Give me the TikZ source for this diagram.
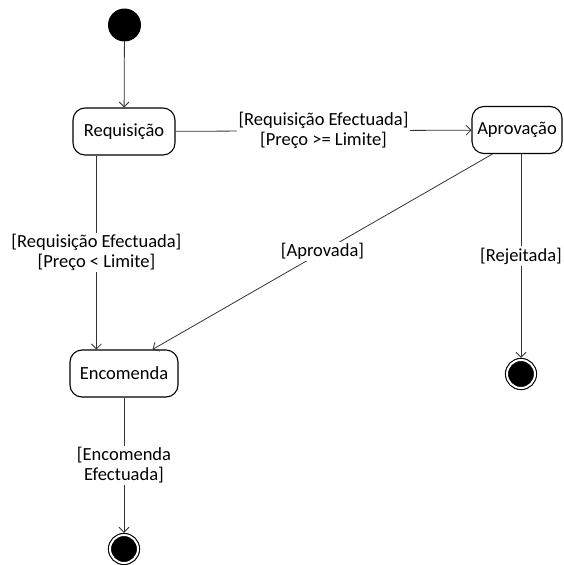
\documentclass[tikz,border=0pt]{standalone}
\usepackage{fontspec}
\setmainfont{Carlito}
\usetikzlibrary{arrows.meta}

\tikzset{
    state/.style = {draw, line width=1.1pt, rounded corners=12pt, minimum height=47pt, inner sep=2pt},
    initial/.style = {circle, fill=black, minimum size=33pt, inner sep=0pt},
    final/.style = {circle, draw=black, line width=1.1pt, double=white, double distance=2pt, fill=black, minimum size=28pt, inner sep=0pt, outer sep=2.2pt},
    arr/.style = {draw=black!80, line width=0.8pt, -{Straight Barb[length=5pt, width=10pt]}},
    lbl/.style = {fill=white, align=center, inner sep=1.5pt}
}

\begin{document}
\begin{tikzpicture}[x = 1pt, y = -1pt, font = \fontsize{18.5pt}{20pt}\selectfont]
    \useasboundingbox (0,0) rectangle (564,565);
    \node[initial] (start) at (124.5,25) {};
    \node[state, minimum width = 102pt] (req) at (124,131.5) {Requisição};
    \node[state, minimum width = 90pt] (apr) at (517,130) {Aprovação};
    \node[state, minimum width = 108pt] (enc) at (124,373.5) {Encomenda};
    \node[final] (endA) at (521,374) {};
    \node[final] (endB) at (124,549) {};

    \draw[arr] (start) -- (req);
    \draw[arr] (req) -- node[lbl] {[Requisição Efectuada]\\{}[Preço >= Limite]} (apr);
    \draw[arr] ([xshift=24pt]req.south west) -- node[lbl] {[Requisição Efectuada]\\{}[Preço < Limite]} ([xshift=27pt]enc.north west);
    \draw[arr] ([xshift=21pt]apr.south west) -- node[lbl] {[Aprovada]} ([xshift=-26pt]enc.north east);
    \draw[arr] (apr.south -| endA) -- node[lbl] {[Rejeitada]} (endA);
    \draw[arr] (enc) -- node[lbl] {[Encomenda\\Efectuada]} (endB);
\end{tikzpicture}
\end{document}
